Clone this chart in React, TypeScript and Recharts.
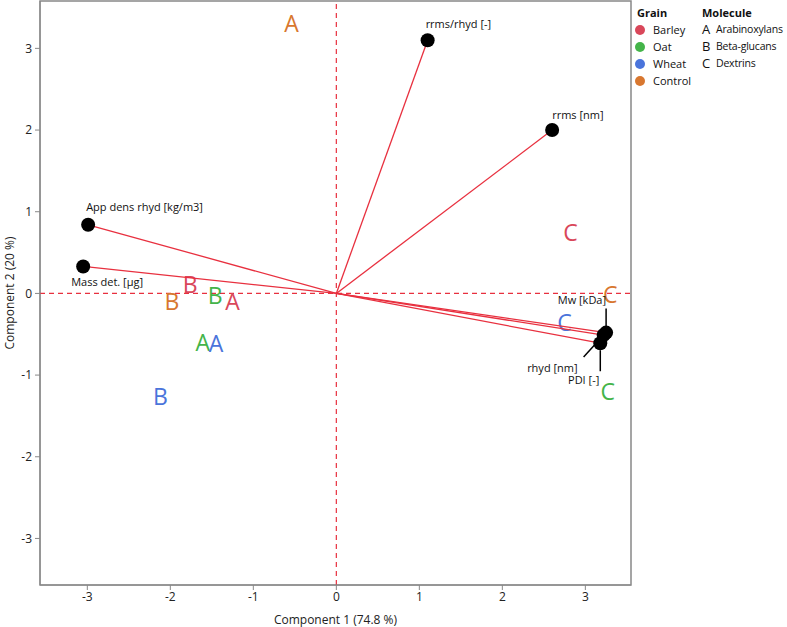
import React from 'react';
import { ScatterChart, Scatter, XAxis, YAxis, ReferenceLine, ReferenceArea } from 'recharts';

const grains = ['Barley', 'Oat', 'Wheat', 'Control'];
const grainColors = ['#D9475A', '#44B449', '#4A74DB', '#D8772F'];
const molecules = ['A', 'B', 'C'];
const moleculeNames = ['Arabinoxylans', 'Beta-glucans', 'Dextrins'];

const barleyScores = [
  { m: 'A', x: -1.25, y: -0.09 },
  { m: 'B', x: -1.76, y: 0.12 },
  { m: 'C', x: 2.82, y: 0.75 },
];
const oatScores = [
  { m: 'A', x: -1.61, y: -0.6 },
  { m: 'B', x: -1.46, y: -0.02 },
  { m: 'C', x: 3.27, y: -1.19 },
];
const wheatScores = [
  { m: 'A', x: -1.45, y: -0.61 },
  { m: 'B', x: -2.12, y: -1.26 },
  { m: 'C', x: 2.75, y: -0.35 },
];
const controlScores = [
  { m: 'A', x: -0.54, y: 3.31 },
  { m: 'B', x: -1.98, y: -0.09 },
  { m: 'C', x: 3.3, y: -0.01 },
];
const scoreSets = [barleyScores, oatScores, wheatScores, controlScores];

const loadingNames = ['rrms/rhyd [-]', 'rrms [nm]', 'App dens rhyd [kg/m3]', 'Mass det. [µg]', 'Mw [kDa]', 'rhyd [nm]', 'PDI [-]'];
const loadingX = [1.1, 2.6, -2.99, -3.05, 3.25, 3.22, 3.18];
const loadingY = [3.1, 2.0, 0.84, 0.33, -0.48, -0.51, -0.61];

const xTicks = [-3, -2, -1, 0, 1, 2, 3];
const yTicks = [-3, -2, -1, 0, 1, 2, 3];
const xDomain = [-3.57, 3.55];
const yDomain = [-3.57, 3.58];

const loadings = loadingNames.map((name, i) => ({ name, x: loadingX[i], y: loadingY[i], i }));

// label placement (pixel offsets from the point): dx, dy, anchor, leader line
const labelPlacement: Record<string, { dx: number; dy: number; anchor: string; leader?: number[] }> = {
  'rrms/rhyd [-]': { dx: -2, dy: -17, anchor: 'start' },
  'rrms [nm]': { dx: 0, dy: -16, anchor: 'start' },
  'App dens rhyd [kg/m3]': { dx: -2, dy: -18, anchor: 'start' },
  'Mass det. [µg]': { dx: -12, dy: 15, anchor: 'start' },
  'Mw [kDa]': { dx: 0, dy: -33, anchor: 'end', leader: [0, -24, 0, 0] },
  'rhyd [nm]': { dx: -26, dy: 32, anchor: 'end', leader: [-20, 22, 0, 0] },
  'PDI [-]': { dx: -1, dy: 36, anchor: 'end', leader: [0, 7, 0, 28] },
};

const FONT = '"Open Sans", "Noto Sans", sans-serif';
const RED = '#E8303F';

const LetterShape = (color: string) => (props: any) => {
  const { cx, cy, payload } = props;
  return (
    <text x={cx} y={cy} fill={color} fontSize={23} fontFamily={FONT} textAnchor="middle" dominantBaseline="central">
      {payload.m}
    </text>
  );
};

const LoadingShape = (props: any) => {
  const { cx, cy, payload } = props;
  const p = labelPlacement[payload.name];
  return (
    <g>
      {p.leader && (
        <line x1={cx + p.leader[0]} y1={cy + p.leader[1]} x2={cx + p.leader[2]} y2={cy + p.leader[3]} stroke="#000" strokeWidth={1.5} />
      )}
      <circle cx={cx} cy={cy} r={7} fill="#000" />
      <text x={cx + p.dx} y={cy + p.dy} fontSize={11} fontFamily={FONT} fill="#111" textAnchor={p.anchor} dominantBaseline="central">
        {payload.name}
      </text>
    </g>
  );
};

const NoShape = () => null;

export default function App() {
  return (
    <div style={{ position: 'absolute', left: 0, top: 0, width: 787, height: 627, fontFamily: FONT }}>
      <ScatterChart width={787} height={627} margin={{ top: 1, right: 156, bottom: 0, left: 0 }}>
        <XAxis
          type="number"
          dataKey="x"
          domain={xDomain}
          ticks={xTicks}
          allowDataOverflow
          height={42}
          tickSize={5}
          tickMargin={2}
          stroke="#888"
          tick={{ fill: '#222', fontSize: 12, fontFamily: FONT }}
          label={{
            content: (p: any) => (
              <text x={p.viewBox.x + p.viewBox.width / 2} y={619} textAnchor="middle" dominantBaseline="central" fontSize={12} fontFamily={FONT} fill="#222">
                Component 1  (74.8 %)
              </text>
            ),
          }}
        />
        <YAxis
          type="number"
          dataKey="y"
          domain={yDomain}
          ticks={yTicks}
          allowDataOverflow
          width={40}
          tickSize={5}
          tickMargin={3}
          stroke="#888"
          tick={{ fill: '#222', fontSize: 12, fontFamily: FONT }}
          label={{
            content: (p: any) => {
              const cx = 9;
              const cy = p.viewBox.y + p.viewBox.height / 2;
              return (
                <text x={cx} y={cy} transform={`rotate(-90 ${cx} ${cy})`} textAnchor="middle" dominantBaseline="central" fontSize={12} fontFamily={FONT} fill="#222">
                  Component 2  (20 %)
                </text>
              );
            },
          }}
        />
        <ReferenceArea x1={xDomain[0]} x2={xDomain[1]} y1={yDomain[0]} y2={yDomain[1]} fill="none" stroke="#888" strokeWidth={1.5} ifOverflow="visible" />
        <ReferenceLine x={0} stroke={RED} strokeDasharray="5 4" strokeWidth={1.2} />
        <ReferenceLine y={0} stroke={RED} strokeDasharray="5 4" strokeWidth={1.2} />
        {scoreSets.map((set, gi) => (
          <Scatter key={grains[gi]} name={grains[gi]} data={set} shape={LetterShape(grainColors[gi])} isAnimationActive={false} />
        ))}
        {loadings.map((l) => (
          <Scatter
            key={'v' + l.name}
            data={[{ x: 0, y: 0 }, { x: l.x, y: l.y }]}
            line={{ stroke: RED, strokeWidth: 1.3 }}
            lineType="joint"
            shape={NoShape}
            isAnimationActive={false}
          />
        ))}
        <Scatter data={loadings} shape={LoadingShape} isAnimationActive={false} />
      </ScatterChart>
      <div style={{ position: 'absolute', left: 637, top: 4, fontSize: 11, color: '#111', lineHeight: '17px' }}>
        <div style={{ fontWeight: 'bold' }}>Grain</div>
        {grains.map((g, i) => (
          <div key={g} style={{ display: 'flex', alignItems: 'center' }}>
            <span style={{ display: 'inline-block', width: 10, height: 10, borderRadius: 5, background: grainColors[i], marginLeft: -2, marginRight: 8 }} />
            {g}
          </div>
        ))}
      </div>
      <div style={{ position: 'absolute', left: 702, top: 4, fontSize: 10.5, color: '#111', lineHeight: '17px', whiteSpace: 'nowrap' }}>
        <div style={{ fontWeight: 'bold', fontSize: 11 }}>Molecule</div>
        {molecules.map((m, i) => (
          <div key={m} style={{ display: 'flex', alignItems: 'center', height: 17 }}>
            <span style={{ display: 'inline-block', width: 14, fontSize: 13, lineHeight: '17px' }}>{m}</span>
            <span style={{ letterSpacing: -0.2 }}>{moleculeNames[i]}</span>
          </div>
        ))}
      </div>
    </div>
  );
}
